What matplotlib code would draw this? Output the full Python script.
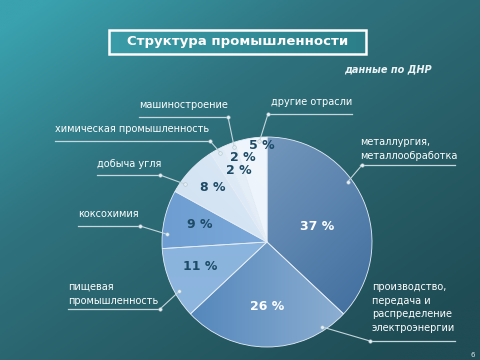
import numpy as np
import matplotlib
matplotlib.use("Agg")
import matplotlib.pyplot as plt
from matplotlib.colors import LinearSegmentedColormap
from matplotlib.patches import Rectangle

# ---------------- data ----------------
categories = ["металлургия,\nметаллообработка",
              "производство,\nпередача и\nраспределение\nэлектроэнергии",
              "пищевая\nпромышленность",
              "коксохимия",
              "добыча угля",
              "химическая промышленность",
              "машиностроение",
              "другие отрасли"]
values = [37, 26, 11, 9, 8, 2, 2, 5]
title = "Структура промышленности"
subtitle = "данные по ДНР"
page_no = "6"

# ---------------- style ----------------
W, H = 480, 360
CX, CY, R = 267, H - 242, 105
grad_colors = [("#86a6c7", "#3a699b"), ("#4a80b8", "#96b5d5"), ("#8fb7df", "#86b0dc"),
               ("#8cb5e0", "#6d9dd2"), ("#c9dcef", "#e3eef8"), ("#d6e5f4", "#e4eef8"),
               ("#dde9f5", "#eaf2fa"), ("#e6f0fa", "#f4f8fd")]
grad_dirs = [(1, -1), (1, 0), (0, 1), (-1, 0), (1, 1), (1, 1), (1, 1), (1, 1)]
pct_colors = ["white", "white"] + ["#1d4b66"] * 6
pct_radius = [0.5, 0.61, 0.68, 0.66, 0.73, 0.73, 0.84, 0.92]
pct_shift = [-6, 0, -3, -2, -2, -7, -6, -6]  # angle shift in degrees
anchor_t = [0.40, 0.15, 0.35, 0.25, 0.22, 0.67, 0.86, 0.76]
# (text x, text top y, underline y, underline x0, x1, dot x) in pixel units (y from top)
label_layout = [
    (360, 137, 165, 360, 455, 362),
    (372, 282, 341, 372, 455, 370),
    (68, 282, 309, 68, 160, 160),
    (78, 209, 226, 78, 140, 140),
    (97, 159, 175, 97, 160, 160),
    (55, 124, 141, 55, 210, 210),
    (139, 100, 117, 139, 228, 228),
    (271, 97, 114, 268, 352, 268),
]
line_col = "#c5d6dc"

fig = plt.figure(figsize=(4.8, 3.6), dpi=100)
ax = fig.add_axes([0, 0, 1, 1])

# background gradient
yy, xx = np.mgrid[0:1:200j, 0:1:260j]
t = np.clip(0.55 * xx + 0.6 * (1 - yy) - 0.05, 0, 1)
bg_cmap = LinearSegmentedColormap.from_list("bg", ["#3aa1ae", "#2f7480", "#285f68", "#1f4c55"])
ax.imshow(bg_cmap(t), extent=[0, W, 0, H], origin="lower", aspect="auto", zorder=0)

# title box
g = np.linspace(0, 1, 100)[None, :]
tcm = LinearSegmentedColormap.from_list("tb", ["#3a9ca8", "#2c7f89"])
ax.imshow(tcm(np.repeat(g, 2, axis=0)), extent=[109, 366, H - 54, H - 30],
          aspect="auto", zorder=2)
ax.add_patch(Rectangle((111, H - 56), 257, 24, facecolor="#16363c", alpha=0.35,
                       edgecolor="none", zorder=1.5))
ax.add_patch(Rectangle((109, H - 54), 257, 24, facecolor="none", edgecolor="white",
                       linewidth=1.8, zorder=3))
ax.text(237.5, H - 42, title, color="white", fontsize=9.5, fontweight="bold",
        ha="center", va="center", zorder=4)
ax.text(388, H - 69, subtitle, color="#eef4f6", fontsize=7, fontweight="bold",
        style="italic", ha="center", va="center", zorder=4)
ax.text(473, H - 355, page_no, color="#dce8ea", fontsize=5, ha="center", va="center")

# pie
wedges, _ = ax.pie(values, center=(CX, CY), radius=R, startangle=90, counterclock=False,
                   frame=True, wedgeprops=dict(edgecolor="#e6eef6", linewidth=0.6))
ax.set_xlim(0, W)
ax.set_ylim(0, H)
ax.set_aspect("auto")
ax.axis("off")

# gradients clipped to wedges
gx, gy = np.meshgrid(np.linspace(-1, 1, 120), np.linspace(-1, 1, 120))  # gx: columns, gy: rows (up)
for w, (c0, c1), (dx, dy) in zip(wedges, grad_colors, grad_dirs):
    n = np.hypot(dx, dy)
    tt = gx * dx / n + gy * dy / n
    tt = (tt - tt.min()) / (tt.max() - tt.min())
    cm = LinearSegmentedColormap.from_list("w", [c0, c1])
    img = ax.imshow(cm(tt), extent=[CX - R, CX + R, CY - R, CY + R], origin="lower",
                    aspect="auto", zorder=w.get_zorder() + 0.1)
    img.set_clip_path(w)
    w.set_facecolor("none")
    w.set_zorder(w.get_zorder() + 0.2)

# percent labels and leader lines
for w, v, pc, pr, ps, at, lay, cat in zip(wedges, values, pct_colors, pct_radius,
                                          pct_shift, anchor_t, label_layout, categories):
    a_start, a_end = w.theta2, w.theta1  # clockwise
    mid = np.deg2rad((a_start + a_end) / 2 + ps)
    ax.text(CX + pr * R * np.cos(mid), CY + pr * R * np.sin(mid), f"{v} %",
            color=pc, fontsize=9, fontweight="bold", ha="center", va="center", zorder=6)
    ang = np.deg2rad(a_start - at * (a_start - a_end))
    px, py = CX + 0.96 * R * np.cos(ang), CY + 0.96 * R * np.sin(ang)
    tx, ttop, uy, ux0, ux1, dxp = lay
    ax.plot([px, dxp], [py, H - uy], color=line_col, lw=0.8, zorder=7)
    ax.plot([ux0, ux1], [H - uy, H - uy], color=line_col, lw=0.9, zorder=7)
    ax.plot([px, dxp], [py, H - uy], ls="none", marker="o", ms=2.6, color="#e4eef2",
            markeredgecolor="#9fb8c2", markeredgewidth=0.3, zorder=8)
    ax.text(tx, H - ttop, cat, color="white", fontsize=7, ha="left", va="top",
            linespacing=1.45, zorder=8)

fig.savefig("out.png", dpi=100)
